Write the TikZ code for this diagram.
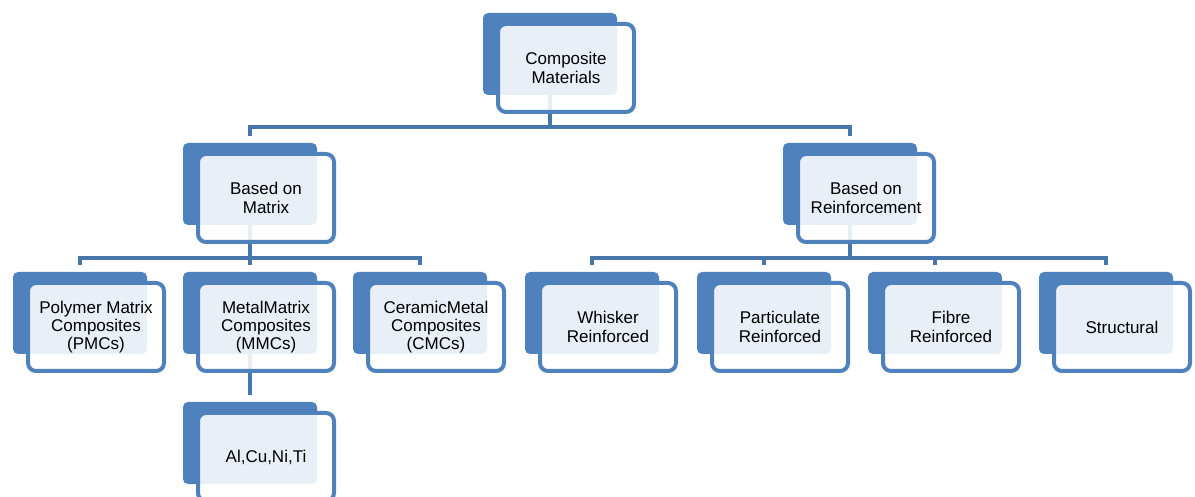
\documentclass[tikz,border=0pt]{standalone}
\usepackage{fontspec}
\setmainfont{Liberation Sans}
\usetikzlibrary{calc}
\definecolor{boxblue}{HTML}{4F81BD}
\definecolor{lineblue}{HTML}{4776AD}

\begin{document}
\begin{tikzpicture}[
  x=0.5pt, y=-0.5pt,
  every node/.style={font=\fontsize{8.5}{9.2}\selectfont},
  back/.style={fill=boxblue, rounded corners=2.5pt, inner sep=0pt,
               minimum width=67pt, minimum height=41pt},
  front/.style={draw=boxblue, line width=2pt, fill=white, fill opacity=0.88,
                text opacity=1, rounded corners=4pt, inner sep=0pt, align=center,
                minimum width=68pt, minimum height=44pt},
  conn/.style={draw=lineblue, line width=2.25pt, shorten >=3.5pt},
]
\useasboundingbox (0,0) rectangle (1195,497);
% back plates
\node[back] (cm) at (550,54) {};
\node[back] (bm) at (250,184) {};
\node[back] (br) at (850,184) {};
\node[back] (pmc) at (80,313) {};
\node[back] (mmc) at (250,313) {};
\node[back] (cmc) at (420,313) {};
\node[back] (wr) at (592,313) {};
\node[back] (pr) at (764,313) {};
\node[back] (fr) at (935,313) {};
\node[back] (st) at (1106,313) {};
\node[back] (al) at (250,443) {};
% connectors
\draw[conn] (cm.center) -- ++(0,73) -| (bm.north);
\draw[conn] (cm.center) -- ++(0,73) -| (br.north);
\draw[conn] (bm.center) -- ++(0,74) -| (pmc.north);
\draw[conn] (bm.center) -- ++(0,74) -| (mmc.north);
\draw[conn] (bm.center) -- ++(0,74) -| (cmc.north);
\draw[conn] (br.center) -- ++(0,74) -| (wr.north);
\draw[conn] (br.center) -- ++(0,74) -| (pr.north);
\draw[conn] (br.center) -- ++(0,74) -| (fr.north);
\draw[conn] (br.center) -- ++(0,74) -| (st.north);
\draw[conn] (mmc.center) -- (al.north);
% front cards
\node[front] (cm-f) at ($(cm)+(16,14)$) {Composite\\Materials};
\node[front] (bm-f) at ($(bm)+(16,14)$) {Based on\\Matrix};
\node[front] (br-f) at ($(br)+(16,14)$) {Based on\\Reinforcement};
\node[front] (pmc-f) at ($(pmc)+(16,14)$) {Polymer Matrix\\Composites\\(PMCs)};
\node[front] (mmc-f) at ($(mmc)+(16,14)$) {MetalMatrix\\Composites\\(MMCs)};
\node[front] (cmc-f) at ($(cmc)+(16,14)$) {CeramicMetal\\Composites\\(CMCs)};
\node[front] (wr-f) at ($(wr)+(16,14)$) {Whisker\\Reinforced};
\node[front] (pr-f) at ($(pr)+(16,14)$) {Particulate\\Reinforced};
\node[front] (fr-f) at ($(fr)+(16,14)$) {Fibre\\Reinforced};
\node[front] (st-f) at ($(st)+(16,14)$) {Structural};
\node[front] (al-f) at ($(al)+(16,14)$) {Al,Cu,Ni,Ti};
\end{tikzpicture}
\end{document}
